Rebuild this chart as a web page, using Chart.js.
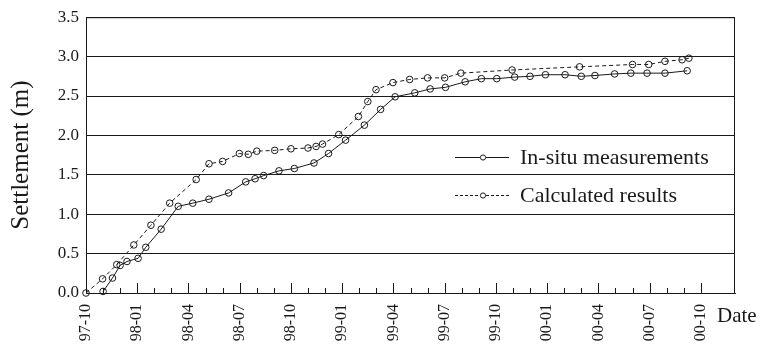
<!DOCTYPE html>
<html>
<head>
<meta charset="utf-8">
<script src="https://cdn.jsdelivr.net/npm/chart.js@4/dist/chart.umd.min.js"></script>
<style>
  html, body { margin: 0; padding: 0; background: #fff; }
  #wrap { width: 760px; height: 345px; }
</style>
</head>
<body>
<div id="wrap"><canvas id="chart"></canvas></div>
<script>
// months counted from 97-10 (0) ; one tick label each quarter
const tickLabels = ['97-10', '98-01', '98-04', '98-07', '98-10', '99-01', '99-04',
  '99-07', '99-10', '00-01', '00-04', '00-07', '00-10'];

const insituMonths = [1.0, 1.55, 2.0, 2.4, 3.05, 3.5, 4.4, 5.4, 6.25, 7.2, 8.35, 9.35, 9.9, 10.4,
  11.3, 12.2, 13.35, 14.2, 15.2, 16.3, 17.25, 18.1, 19.25, 20.15, 21.05, 22.2, 23.15, 24.05,
  25.1, 26.0, 26.9, 28.05, 29.0, 29.8, 30.95, 31.9, 32.85, 33.9, 35.2];
const insituValues = [0.02, 0.19, 0.35, 0.40, 0.44, 0.58, 0.81, 1.10, 1.14, 1.19, 1.27, 1.41, 1.45, 1.49,
  1.55, 1.58, 1.65, 1.77, 1.94, 2.13, 2.33, 2.49, 2.54, 2.59, 2.61, 2.68, 2.72, 2.72,
  2.74, 2.75, 2.77, 2.77, 2.75, 2.76, 2.78, 2.79, 2.79, 2.79, 2.82];

const calcMonths = [0, 0.97, 1.8, 2.8, 3.8, 4.9, 6.45, 7.2, 8.0, 8.98, 9.5, 10.0, 11.05, 12.0,
  13.0, 13.47, 13.85, 14.8, 15.95, 16.5, 16.98, 17.97, 18.95, 20.0, 21.0, 21.95, 24.95,
  28.9, 32.0, 32.95, 33.9, 34.9, 35.3];
const calcValues = [0.0, 0.18, 0.36, 0.61, 0.86, 1.14, 1.44, 1.64, 1.67, 1.77, 1.76, 1.80, 1.81, 1.83,
  1.84, 1.86, 1.89, 2.01, 2.24, 2.43, 2.58, 2.67, 2.71, 2.73, 2.73, 2.79, 2.83,
  2.87, 2.90, 2.90, 2.94, 2.96, 2.98];

const seriesNames = ['In-situ measurements', 'Calculated results'];

const serif = "'Liberation Serif', 'Times New Roman', serif";
const ink = '#1a1a1a';

const toPoints = (xs, ys) => xs.map((x, i) => ({ x: x, y: ys[i] }));

// frame, inward month ticks, legend and the "Date" caption
const decorations = {
  id: 'decorations',
  afterDraw(chart) {
    const { ctx, chartArea: { left, right, top, bottom }, scales: { x } } = chart;
    ctx.save();
    ctx.strokeStyle = ink;
    ctx.lineWidth = 1;
    ctx.strokeRect(left + 0.5, top + 0.5, right - left - 1, bottom - top);

    for (let m = 0; m <= 36; m++) {
      const px = Math.round(x.getPixelForValue(m)) + 0.5;
      const len = m % 3 === 0 ? 10 : 5;
      ctx.beginPath();
      ctx.moveTo(px, bottom);
      ctx.lineTo(px, bottom - len);
      ctx.stroke();
    }

    // legend
    const rows = [{ y: 157.5, dash: [] }, { y: 195.5, dash: [3, 2] }];
    rows.forEach((r, i) => {
      ctx.setLineDash(r.dash);
      ctx.beginPath();
      ctx.moveTo(455, r.y);
      ctx.lineTo(480, r.y);
      ctx.moveTo(486, r.y);
      ctx.lineTo(509, r.y);
      ctx.stroke();
      ctx.setLineDash([]);
      ctx.beginPath();
      ctx.arc(483, r.y, 2.6, 0, Math.PI * 2);
      ctx.stroke();
      ctx.fillStyle = ink;
      ctx.font = '22px ' + serif;
      ctx.textBaseline = 'middle';
      ctx.textAlign = 'left';
      ctx.fillText(seriesNames[i], 520, r.y + 1);
    });

    ctx.font = '21px ' + serif;
    ctx.textBaseline = 'alphabetic';
    ctx.fillText('Date', 717, 322);
    ctx.restore();
  }
};

new Chart(document.getElementById('chart'), {
  type: 'line',
  data: {
    datasets: [
      {
        label: seriesNames[0],
        data: toPoints(insituMonths, insituValues),
        borderColor: ink,
        borderWidth: 1,
        pointRadius: 3.3,
        pointBorderWidth: 1,
        pointBackgroundColor: 'rgba(0,0,0,0)',
        pointBorderColor: ink,
        tension: 0,
        clip: false
      },
      {
        label: seriesNames[1],
        data: toPoints(calcMonths, calcValues),
        borderColor: ink,
        borderWidth: 1,
        borderDash: [4, 3],
        pointRadius: 3.3,
        pointBorderWidth: 1,
        pointBackgroundColor: 'rgba(0,0,0,0)',
        pointBorderColor: ink,
        tension: 0,
        clip: false
      }
    ]
  },
  options: {
    responsive: true,
    maintainAspectRatio: false,
    animation: false,
    layout: { padding: { top: 15, right: 25, left: 0, bottom: 0 } },
    plugins: {
      legend: { display: false },
      tooltip: { enabled: false }
    },
    scales: {
      x: {
        type: 'linear',
        min: 0,
        max: 38,
        afterFit(scale) { scale.height = 52; },
        border: { display: true, color: ink, width: 1 },
        grid: { display: false },
        ticks: {
          stepSize: 3,
          autoSkip: false,
          minRotation: 90,
          maxRotation: 90,
          padding: 3,
          color: ink,
          font: { family: serif, size: 16 },
          callback: (v) => (v % 3 === 0 ? tickLabels[v / 3] : '')
        }
      },
      y: {
        min: 0,
        max: 3.5,
        afterFit(scale) { scale.width = 86; },
        border: { display: true, color: ink, width: 1 },
        grid: { color: ink, lineWidth: 1, drawTicks: false },
        ticks: {
          stepSize: 0.5,
          padding: 7,
          color: ink,
          font: { family: serif, size: 17 },
          callback: (v) => v.toFixed(1)
        },
        title: {
          display: true,
          text: 'Settlement (m)',
          color: ink,
          padding: { top: 6, bottom: 0 },
          font: { family: serif, size: 25 }
        }
      }
    }
  },
  plugins: [decorations]
});
</script>
</body>
</html>
